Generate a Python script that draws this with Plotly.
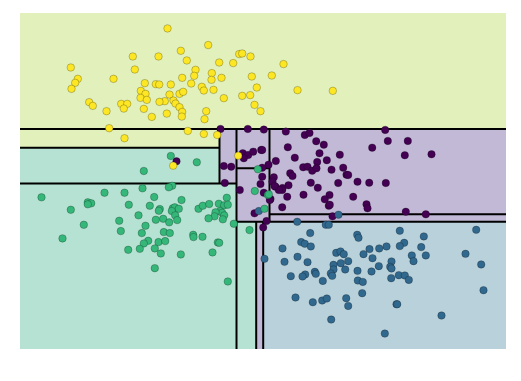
import plotly.graph_objects as go

# ---- data (units are the chart's own x/y units) ----
yellow_x = [167, 207.7, 180.3, 132.3, 158, 238.7, 241.7, 250, 186.3, 218.7, 232.7, 70.3, 134.3, 195, 193.7,
            211.3, 77.3, 74.7, 71, 113, 181.7, 211, 221, 251.3, 256.3, 144.3, 155.3, 158.7, 170.3, 190.7,
            201.3, 203.3, 213, 140.3, 145, 140, 146.3, 169, 179, 182.7, 164.3, 159, 173, 175, 223.3, 241.7,
            249.7, 88.7, 92.3, 120.7, 126.7, 123.3, 106, 143.3, 179, 181.7, 181.3, 166.3, 151.3, 205.7, 204,
            254, 260, 108.7, 124, 187.3, 203.3, 216.7, 237.7, 172.7, 283, 271.3, 297, 332.3]
yellow_y = [28.7, 45.3, 51, 56.7, 56.7, 54.3, 53.7, 56.7, 60.7, 62.7, 63.3, 67.7, 69.7, 70, 76,
            73.3, 79, 83, 89, 79, 78, 80, 78, 76.7, 87.7, 83.3, 84.3, 84.7, 84.7, 83.7,
            87, 90.7, 90, 91, 94, 98, 100, 94.7, 94, 92, 101.3, 102, 100.7, 103.7, 98.3, 96,
            95.3, 102.3, 106, 104, 104, 108.7, 111.3, 109, 107.3, 112, 116.7, 113.7, 117, 111.3, 119.3,
            105, 111.3, 128.3, 138.3, 131, 134, 135, 155.7, 165.7, 64.3, 75.7, 90.3, 91]

purple_x = [220, 247.3, 176, 242.3, 247.7, 252.7, 243.3, 260.7, 223.3, 230.7, 224.3, 263.3, 285.3, 304.3, 309,
            384.7, 315.7, 323.3, 287.3, 261.7, 371.7, 387.3, 407.3, 319, 339.3, 294.3, 404.3, 431, 275.3, 268,
            316.7, 326.3, 302.7, 307, 311.7, 316, 331, 342.7, 261.7, 289.7, 292, 346, 347.7, 261.7, 273.3,
            272, 310.3, 337.7, 357, 368.7, 385.3, 288, 317.3, 275, 282, 281.7, 286.7, 303, 329, 324.3,
            328.3, 329.3, 352.7, 366, 367, 281.7, 270, 263.3, 405.3, 425.3, 332, 266, 262.7, 239.3, 254,
            269.3, 278.3, 260, 274]
purple_y = [129, 129, 161.3, 153.3, 155, 151.7, 158.3, 150, 166, 166.7, 183, 129.7, 131.7, 135, 133,
            130, 141.3, 144.7, 147.3, 150, 147.7, 141, 141, 153.3, 154.7, 157.7, 155.3, 154.3, 161, 164.7,
            162, 160.3, 167.3, 166.7, 170.7, 168.3, 169.7, 167.7, 167.7, 173.3, 176, 174.7, 175, 176.7, 177.3,
            181.7, 182.7, 183, 181.7, 182.7, 183, 185.3, 187.7, 186.7, 188, 190, 196.7, 194.7, 195, 199.3,
            205.7, 204.7, 196.7, 204.3, 208.3, 207.3, 199, 192.7, 211.7, 214.3, 216.3, 221, 227.3, 190, 213.3,
            200, 190, 184, 186]

green_x = [170.3, 196.3, 143.3, 257.3, 171.7, 168.3, 142, 124, 104, 41, 153.7, 181, 226.3, 70.3, 87.3,
           90.7, 87.3, 128.3, 149.3, 159.3, 158.3, 172.3, 174.3, 178.3, 171.3, 174.7, 176.7, 198, 202.3, 208.7,
           218.3, 223.7, 227.3, 219.7, 221.7, 215, 214, 223.7, 208, 222.3, 233.3, 249, 138, 83.3, 118.7,
           120.3, 145, 155.3, 162.7, 168.7, 141.3, 163.3, 169.3, 192.7, 193, 202, 62, 147.7, 143.3, 158,
           164.7, 217.3, 218.7, 127.7, 139.3, 154.3, 160.3, 180.3, 212, 154.3, 227.3, 264, 267.3, 254.3, 268.3]
green_y = [156, 162.3, 171, 169.3, 185.7, 187.3, 188.3, 192.7, 192.7, 197.3, 197, 200, 197.7, 209.7, 202.3,
           203.3, 204.3, 204.7, 205.7, 209, 210.7, 208.3, 207.3, 208.7, 211, 215.3, 220, 208.7, 205.7, 204,
           203.7, 205.3, 204.7, 211, 212.7, 212.3, 216.3, 215.3, 218.3, 219.3, 223.7, 230, 215.3, 224.7, 220.7,
           231, 225.7, 219.7, 218.7, 222.3, 233, 232, 233, 234.7, 237, 236.7, 238.3, 240.7, 243.3, 242,
           241, 242.3, 242.7, 249.7, 248.7, 248.3, 253.3, 254.3, 252.3, 268, 281.3, 208.7, 195, 191, 194.3]

blue_x = [338, 296.7, 325.3, 328.3, 309.7, 356.7, 358, 399.3, 423.3, 475.7, 300.7, 304.3, 310.3, 282, 403.7,
          399.3, 386, 378.7, 369, 420.7, 335.7, 340, 343.3, 363, 372, 411.3, 425.3, 465, 297, 264,
          284, 307, 347.7, 340.3, 333, 391, 413, 480.7, 378.3, 389.7, 391, 333, 344.7, 357, 371,
          314.3, 315.3, 330.3, 331.7, 304.7, 302, 290.3, 398.3, 404.3, 408.3, 390.7, 322.3, 357.3, 362.3,
          361.7, 483, 295, 312.3, 321.7, 326.3, 345.7, 347.7, 396, 396.7, 441, 330.7, 384.3, 258.3]
blue_y = [214.7, 221.7, 224.7, 224.7, 233, 234.7, 237.7, 230.7, 236.3, 229.7, 242, 243.7, 246.3, 248.3, 242.7,
          246, 246.3, 248.3, 249, 247, 252.7, 251.3, 254, 254, 258, 255.3, 255.3, 253.7, 256.7, 258.7,
          261.7, 262, 261, 263, 264.7, 261.3, 261, 264.3, 266, 266.7, 268.3, 269.3, 269.3, 270.7, 271.3,
          271.7, 273.7, 273.3, 275.7, 274.3, 276.3, 276, 275, 275.3, 279.7, 278, 280.7, 280.3, 281.7,
          293, 290, 297.3, 302, 300.3, 298.3, 298, 305.7, 304, 304, 315.3, 319.3, 333.3, 211]

# decision-tree leaves: (x0, x1, y0, y1, class)
leaf_x0 = [19.5, 19.5, 19.5, 219, 19.5, 236, 236, 269, 269, 236, 255.7, 262.7]
leaf_x1 = [505.5, 219, 219, 236, 236, 269, 269, 505.5, 505.5, 255.7, 262.7, 505.5]
leaf_y0 = [13.3, 129, 147.7, 129, 183.5, 129, 168.3, 129, 214.3, 221.7, 221.7, 221.7]
leaf_y1 = [129, 147.7, 183.5, 183.5, 348.7, 168.3, 221.7, 214.3, 221.7, 348.7, 348.7, 348.7]
leaf_cls = ["yellow", "yellow", "green", "purple", "green", "purple", "purple", "purple", "purple",
            "green", "purple", "blue"]

# split lines: (x0, x1, y0, y1)
split_x0 = [19.5, 19.5, 19.5, 219, 236, 269, 236, 236, 269, 255.7, 262.7]
split_x1 = [505.5, 219, 236, 219, 236, 269, 269, 505.5, 505.5, 255.7, 262.7]
split_y0 = [129, 147.7, 183.5, 129, 129, 129, 168.3, 221.7, 214.3, 221.7, 221.7]
split_y1 = [129, 147.7, 183.5, 183.5, 348.7, 221.7, 168.3, 221.7, 214.3, 348.7, 348.7]

X_RANGE = [19.5, 505.5]
Y_RANGE = [348.7, 13.3]

# ---- styles ----
region_color = {"yellow": "#e2f1bb", "green": "#b5e2d2", "purple": "#c1b9d5", "blue": "#b9d1da"}
point_color = {"purple": "#440154", "blue": "#31688e", "green": "#35b779", "yellow": "#fde725"}

fig = go.Figure()

for x0, x1, y0, y1, c in zip(leaf_x0, leaf_x1, leaf_y0, leaf_y1, leaf_cls):
    fig.add_shape(type="rect", xref="x", yref="y", x0=x0, x1=x1, y0=y0, y1=y1,
                  fillcolor=region_color[c], line=dict(width=0), layer="below")

for x0, x1, y0, y1 in zip(split_x0, split_x1, split_y0, split_y1):
    fig.add_shape(type="line", xref="x", yref="y", x0=x0, x1=x1, y0=y0, y1=y1,
                  line=dict(color="black", width=2), layer="below")

for name, xs, ys in [("purple", purple_x, purple_y), ("blue", blue_x, blue_y),
                     ("green", green_x, green_y), ("yellow", yellow_x, yellow_y)]:
    fig.add_trace(go.Scatter(x=xs, y=ys, mode="markers", name=name,
                             marker=dict(size=7.5, color=point_color[name],
                                         line=dict(width=0.6, color="rgba(0,0,0,0.4)")),
                             cliponaxis=True, hoverinfo="skip"))

fig.update_xaxes(range=X_RANGE, visible=False, showgrid=False, zeroline=False)
fig.update_yaxes(range=Y_RANGE, visible=False, showgrid=False, zeroline=False)
fig.update_layout(width=521, height=381, margin=dict(l=20, r=15, t=13, b=32),
                  showlegend=False, paper_bgcolor="white", plot_bgcolor="white")

fig.write_html("out.html")
